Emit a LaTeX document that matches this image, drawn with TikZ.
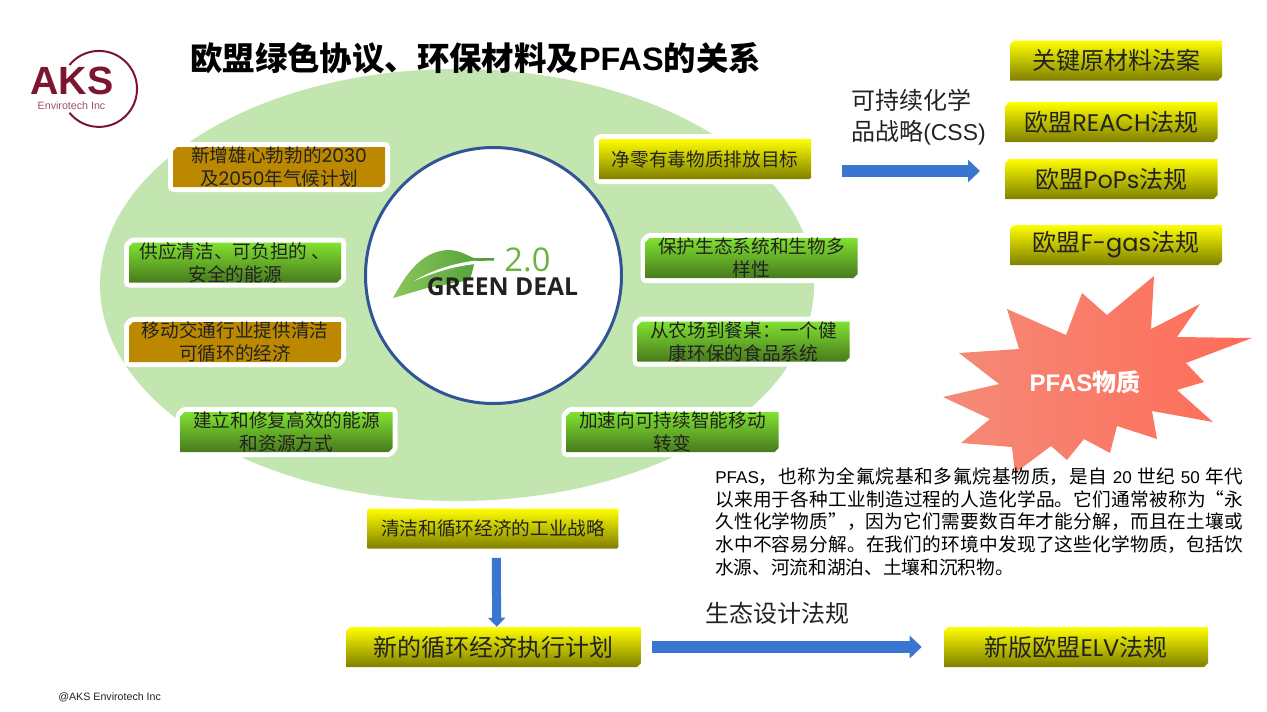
\documentclass[tikz,border=0pt]{standalone}
\usepackage{fontspec}
\setmainfont{Noto Sans CJK SC}
\newfontfamily\arial{Liberation Sans}
\newfontfamily\gothic{Poppins}
\newfontfamily\logofont{Open Sans}
\XeTeXlinebreaklocale "zh"
\XeTeXlinebreakskip=0pt plus 1pt
\usepackage{tikz}
\usetikzlibrary{shapes.misc,arrows.meta,positioning}
\definecolor{oval}{HTML}{C3E6B0}
\definecolor{ring}{HTML}{2F5597}
\definecolor{flow}{HTML}{3A76CF}
\definecolor{maroon}{HTML}{7B1530}
\definecolor{ink}{HTML}{222222}
\def \smallfont {\fontsize{14}{17.25}\selectfont}
\def \largefont {\fontsize{18}{23}\selectfont}
\tikzstyle{plate} = [chamfered rectangle,chamfered rectangle corners={north west,south east},chamfered rectangle sep=1.5pt,inner xsep=0pt,inner ysep=-7pt,align=center,text=ink,minimum width=159pt,minimum height=30pt,font=\smallfont]
\tikzstyle{halo} = [preaction={draw=white,line width=7.5pt,line join=round}]
\tikzstyle{yellowplate} = [plate,top color=yellow,middle color=yellow!88!black,bottom color=yellow!50!black]
\tikzstyle{greenplate} = [plate,halo,top color={rgb,255:red,128;green,226;blue,48},middle color={rgb,255:red,112;green,198;blue,42},bottom color={rgb,255:red,72;green,122;blue,30}]
\tikzstyle{brownplate} = [plate,halo,fill={rgb,255:red,188;green,136;blue,0}]
\tikzstyle{lawplate} = [yellowplate,font=\largefont]
\tikzstyle{flowline} = [draw=flow,line width=9pt,-{Triangle[length=9pt,width=16.5pt,sep=0pt]}]
\tikzstyle{caption} = [font=\largefont,text=ink,inner sep=0,align=left]
\begin{document}
\begin{tikzpicture}[x=0.75pt,y=-0.75pt]
  \useasboundingbox (0,0) rectangle (1267,711);
  \fill[oval] (457,285) ellipse [x radius=357,y radius=216];
  \node[draw=ring,line width=2.25pt,fill=white,circle,minimum size=192pt,inner sep=0] (deal) at (493.5,275.5) {};
  % leaf
  \shade[left color={rgb,255:red,140;green,198;blue,90},right color={rgb,255:red,74;green,156;blue,55}]
    (393,298) .. controls (405,276) and (420,252) .. (447,250) .. controls (460,250) and (468,256) .. (474,258)
    -- (494,258) -- (494,260.5) -- (475,261) -- (470,280) -- (427,288) -- cycle;
  \fill[white] (414,281) .. controls (432,270) and (455,263) .. (476,260.5) -- (476,264) .. controls (455,266) and (435,272) .. (414,281) -- cycle;
  \node[font=\logofont\fontsize{24.5}{24}\selectfont,text={rgb,255:red,109;green,179;blue,63},inner sep=0] (version) at (527.5,260) {2.0};
  \node[font=\logofont\bfseries\fontsize{18.5}{19}\selectfont,text=ink,inner sep=0] (dealname) at (502.5,287) {GREEN DEAL};
  % logo
  \node[font=\arial\bfseries\fontsize{29.5}{30}\selectfont,text=maroon,inner sep=0] (aks) at (72,81) {AKS};
  \node[font=\arial\fontsize{8}{10}\selectfont,text=maroon!75!white,inner sep=0] (envirotech) at (71.5,106) {Envirotech Inc};
  \coordinate (arcstart) at (69.5,65);
  \draw[maroon,line width=1.5pt] (arcstart) arc [start angle=141,end angle=-141,radius=28.5pt];
  \node[font=\fontsize{24.3}{24}\selectfont\bfseries,text=black,anchor=west,inner sep=0] (headline) at (190,58) {欧盟绿色协议、环保材料及{\arial PFAS}的关系};
  % ring of actions
  \node[brownplate] (climate) at (279,167) {新增雄心勃勃的{\gothic 2030}\\及{\gothic 2050}年气候计划};
  \node[greenplate] (energy) at (235,262.5) {供应清洁、可负担的 、\\安全的能源};
  \node[brownplate] (mobility) at (235,342) {移动交通行业提供清洁\\可循环的经济};
  \node[greenplate] (resources) at (286.5,432) {建立和修复高效的能源\\和资源方式};
  \node[yellowplate,halo] (zero) at (705,159) {净零有毒物质排放目标};
  \node[greenplate] (nature) at (751.5,258) {保护生态系统和生物多\\样性};
  \node[greenplate] (farm) at (743.5,341.5) {从农场到餐桌：一个健\\康环保的食品系统};
  \node[greenplate] (smart) at (672.5,432) {加速向可持续智能移动\\转变};
  \node[yellowplate,minimum width=188pt] (clean) at (493,528.5) {清洁和循环经济的工业战略};
  % laws
  \node[lawplate] (rawmat) at (1116,60.5) {关键原材料法案};
  \node[lawplate] (reach) at (1111.5,122) {欧盟{\gothic REACH}法规};
  \node[lawplate] (pops) at (1111.5,179) {欧盟{\gothic PoPs}法规};
  \node[lawplate] (fgas) at (1116,245) {欧盟{\gothic F-gas}法规};
  \node[lawplate,minimum width=221pt] (plan) at (493.5,647) {新的循环经济执行计划};
  \node[lawplate,minimum width=198pt] (elv) at (1076,647) {新版欧盟{\gothic ELV}法规};
  % arrows
  \coordinate (cssstart) at (842,171);
  \coordinate (cssend) at (980,171);
  \draw[flowline] (cssstart) -- (cssend);
  \draw[flowline,line width=6.75pt,-{Triangle[length=6.75pt,width=12.75pt,sep=0pt]},shorten <=6.75pt] ([xshift=2.4pt]clean.south) -- ([xshift=2.4pt]plan.north);
  \draw[flowline,shorten <=8.25pt,shorten >=16.5pt] (plan.east) -- (elv.west);
  \node[caption,anchor=west] (css) at (851,117.5) {可持续化学\\品战略{\arial\fontsize{17.2}{23}\selectfont (CSS)}};
  \node[caption,anchor=west] (ecodesign) at (705,613) {生态设计法规};
  % burst
  \shade[left color={rgb,255:red,244;green,138;blue,120},right color={rgb,255:red,255;green,108;blue,88}]
    (1154,276) -- (1151,329) -- (1200,304) -- (1177,337) -- (1252,338) -- (1186,363) -- (1204,382)
    -- (1177,390) -- (1213,422) -- (1152,411) -- (1157,439) -- (1117,426) -- (1110,453) -- (1084,439)
    -- (1067,460) -- (1051,446) -- (1015,473) -- (1012,447) -- (961,443) -- (990,419) -- (943,397)
    -- (999,384) -- (959,353) -- (1019,349) -- (1007,309) -- (1066,335) -- (1082,293) -- (1107,315) -- cycle;
  \node[font=\fontsize{18}{18}\selectfont\bfseries,text=white,inner sep=0] (pfas) at (1085,382) {{\arial PFAS}物质};
  \node[anchor=north west,inner sep=0,text width=396pt,align=justify,font=\fontsize{14}{17}\selectfont,text=black] (about) at (715,467.5)
    {{\arial\fontsize{12.8}{17}\selectfont PFAS}，也称为全氟烷基和多氟烷基物质，是自 {\arial\fontsize{12.8}{17}\selectfont 20} 世纪 {\arial\fontsize{12.8}{17}\selectfont 50} 年代\linebreak
     以来用于各种工业制造过程的人造化学品。它们通常被称为“永\linebreak
     久性化学物质”，因为它们需要数百年才能分解，而且在土壤或\linebreak
     水中不容易分解。在我们的环境中发现了这些化学物质，包括饮\linebreak
     水源、河流和湖泊、土壤和沉积物。};
  \node[font=\arial\fontsize{8}{10}\selectfont,text=ink,anchor=west,inner sep=0] (footer) at (58,697) {@AKS Envirotech Inc};
\end{tikzpicture}
\end{document}
